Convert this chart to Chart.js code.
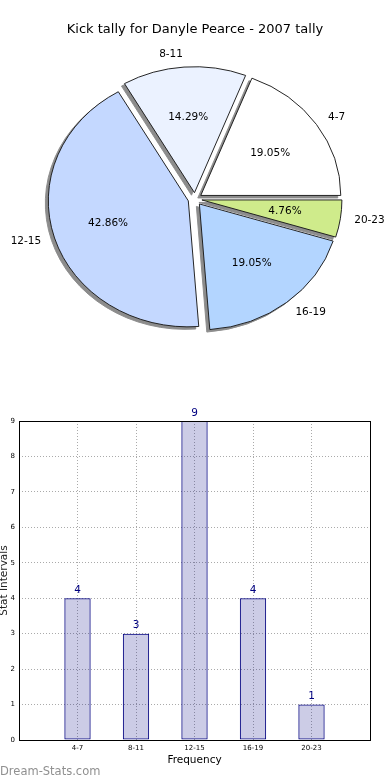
<!DOCTYPE html>
<html>
<head>
<meta charset="utf-8">
<script src="https://cdn.jsdelivr.net/npm/chart.js@4.4.1/dist/chart.umd.min.js"></script>
<style>
  html, body { margin: 0; padding: 0; background: #fff; }
  #page { position: relative; width: 390px; height: 780px; overflow: hidden; }
  .box { position: absolute; left: 0; width: 390px; height: 390px; }
  #pieBox { top: 0; }
  #barBox { top: 390px; }
  #mark { position: absolute; left: 0; top: 764px; font: 11.5px 'DejaVu Sans', sans-serif; color: #909090; }
</style>
</head>
<body>
<div id="page">
  <div class="box" id="pieBox"><canvas id="pieChart"></canvas></div>
  <div class="box" id="barBox"><canvas id="barChart"></canvas></div>
  <div id="mark">Dream-Stats.com</div>
</div>
<script>
const CATEGORIES   = ['4-7', '8-11', '12-15', '16-19', '20-23'];
const TALLY        = [4, 3, 9, 4, 1];
const SLICE_COLORS = ['#ffffff', '#ebf2ff', '#c4d8ff', '#b3d5ff', '#cfeb8b'];
const Y_TICKS      = [0, 1, 2, 3, 4, 5, 6, 7, 8, 9];

const FONT = "'DejaVu Sans', sans-serif";
const PIE  = { radius: 140, squash: 0.9, explode: 7, shadow: { dx: -3, dy: 2.5, color: '#8c8c8c' } };
const GRID = { color: '#aaaaaa', lineWidth: 1, drawTicks: false, offset: false };

// draw one arc pushed out along its middle angle
function drawShifted(ctx, arc, dx) {
    const mid = (arc.startAngle + arc.endAngle) / 2;
    ctx.save();
    ctx.translate(dx + Math.cos(mid) * PIE.explode, Math.sin(mid) * PIE.explode);
    arc.draw(ctx);
    ctx.restore();
}

// exploded, slightly flattened pie with a drop shadow
const explodedPie = {
    id: 'explodedPie',
    beforeDatasetDraw(chart, args) {
        const ctx  = chart.ctx;
        const arcs = args.meta.data;
        const { x: cx, y: cy } = arcs[0];
        ctx.save();
        ctx.translate(cx, cy);
        ctx.scale(1, PIE.squash);
        ctx.translate(-cx, -cy);
        // shadow pass: shapes go off canvas, only their shadow lands
        ctx.shadowColor   = PIE.shadow.color;
        ctx.shadowBlur    = 0;
        ctx.shadowOffsetX = 5000 + PIE.shadow.dx;
        ctx.shadowOffsetY = PIE.shadow.dy;
        arcs.forEach(arc => drawShifted(ctx, arc, -5000));
        ctx.shadowColor   = 'transparent';
        ctx.shadowOffsetX = 0;
        ctx.shadowOffsetY = 0;
        arcs.forEach(arc => drawShifted(ctx, arc, 0));
        ctx.restore();
        return false;
    },
};

const pieLabels = {
    id: 'pieLabels',
    afterDatasetsDraw(chart) {
        const ctx    = chart.ctx;
        const arcs   = chart.getDatasetMeta(0).data;
        const labels = chart.data.labels;
        const values = chart.data.datasets[0].data;
        const total  = values.reduce((a, b) => a + b, 0);
        ctx.save();
        ctx.font = `10.5px ${FONT}`;
        ctx.fillStyle = '#000';
        ctx.textBaseline = 'middle';
        arcs.forEach((arc, i) => {
            const mid = (arc.startAngle + arc.endAngle) / 2;
            const at = f => {
                const d = PIE.explode + f * arc.outerRadius;
                return [arc.x + Math.cos(mid) * d, arc.y + Math.sin(mid) * d * PIE.squash];
            };
            let [x, y] = at(1.1);
            ctx.textAlign = Math.cos(mid) >= 0 ? 'left' : 'right';
            ctx.fillText(labels[i], x, y);
            [x, y] = at(0.6);
            ctx.textAlign = 'center';
            ctx.fillText((values[i] / total * 100).toFixed(2) + '%', x, y);
        });
        ctx.restore();
    },
};

const frame = {
    id: 'frame',
    afterDraw(chart) {
        const { ctx, chartArea: a } = chart;
        const x0 = Math.round(a.left) + 0.5, x1 = Math.round(a.right) + 0.5;
        const y0 = Math.round(a.top) + 0.5, y1 = Math.round(a.bottom) + 0.5;
        ctx.save();
        ctx.strokeStyle = '#000';
        ctx.lineWidth = 1;
        ctx.strokeRect(x0, y0, x1 - x0, y1 - y0);
        ctx.restore();
    },
};

const barValues = {
    id: 'barValues',
    afterDatasetsDraw(chart) {
        const ctx = chart.ctx;
        ctx.save();
        ctx.font = `10.5px ${FONT}`;
        ctx.fillStyle = '#000080';
        ctx.textAlign = 'center';
        ctx.textBaseline = 'alphabetic';
        chart.getDatasetMeta(0).data.forEach((bar, i) => {
            ctx.fillText(String(TALLY[i]), bar.x, bar.y - 5.5);
        });
        ctx.restore();
    },
};

// matplotlib goes counter-clockwise from 3 o'clock, Chart.js clockwise: feed it reversed
new Chart(document.getElementById('pieChart'), {
    type: 'pie',
    data: {
        labels: [...CATEGORIES].reverse(),
        datasets: [{
            data:            [...TALLY].reverse(),
            backgroundColor: [...SLICE_COLORS].reverse(),
            borderColor:     '#1a1a1a',
            borderWidth:     1,
            rotation:        90,
            radius:          PIE.radius,
        }],
    },
    options: {
        responsive: true,
        maintainAspectRatio: false,
        animation: false,
        layout: { padding: { top: 0, bottom: 29.6, left: 0, right: 0 } },
        plugins: {
            legend:  { display: false },
            tooltip: { enabled: false },
            title: {
                display: true,
                text: 'Kick tally for Danyle Pearce - 2007 tally',
                color: '#000',
                font: { family: FONT, size: 13, weight: 'normal', lineHeight: 1.2 },
                padding: { top: 22, bottom: 0 },
            },
        },
    },
    plugins: [explodedPie, pieLabels],
});

new Chart(document.getElementById('barChart'), {
    type: 'bar',
    data: {
        datasets: [{
            data:               TALLY.map((v, i) => ({ x: i + 1, y: v })),
            backgroundColor:    'rgba(0, 0, 128, 0.2)',
            borderColor:        '#000080',
            borderWidth:        1,
            borderSkipped:      false,
            barPercentage:      1,
            categoryPercentage: 0.45,
        }],
    },
    options: {
        responsive: true,
        maintainAspectRatio: false,
        animation: false,
        layout: { padding: { top: 31, right: 20, bottom: 0, left: 0 } },
        scales: {
            x: {
                type: 'linear',
                offset: false,
                min: 0,
                max: CATEGORIES.length + 1,
                afterBuildTicks: s => { s.ticks = CATEGORIES.map((_, i) => ({ value: i + 1 })); },
                afterFit: s => { s.height = 40; },
                ticks: {
                    autoSkip: false,
                    maxRotation: 0,
                    padding: 4,
                    color: '#000',
                    font: { family: FONT, size: 7 },
                    callback: v => CATEGORIES[v - 1],
                },
                grid: GRID,
                border: { display: false, dash: [1, 2] },
                title: {
                    display: true,
                    text: 'Frequency',
                    color: '#000',
                    font: { family: FONT, size: 10.5, lineHeight: 1.2 },
                    padding: { top: 0, bottom: 13.7 },
                },
            },
            y: {
                min: 0,
                max: Y_TICKS[Y_TICKS.length - 1],
                afterBuildTicks: s => { s.ticks = Y_TICKS.map(value => ({ value })); },
                afterFit: s => { s.width = 19; },
                ticks: { padding: 4, color: '#000', font: { family: FONT, size: 7 } },
                grid: GRID,
                border: { display: false, dash: [1, 2] },
                title: {
                    display: true,
                    text: 'Stat Intervals',
                    color: '#222',
                    font: { family: FONT, size: 10.5, lineHeight: 0.8 },
                    padding: 0,
                },
            },
        },
        plugins: {
            legend:  { display: false },
            tooltip: { enabled: false },
        },
    },
    plugins: [barValues, frame],
});
</script>
</body>
</html>
